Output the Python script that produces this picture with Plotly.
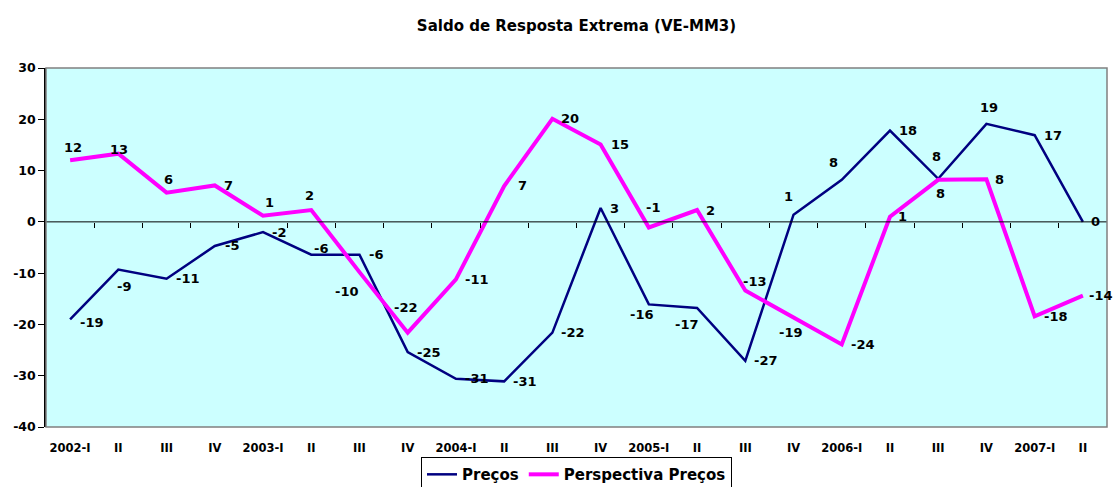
import plotly.graph_objects as go

categories = ["2002-I", "II", "III", "IV", "2003-I", "II", "III", "IV",
              "2004-I", "II", "III", "IV", "2005-I", "II", "III", "IV",
              "2006-I", "II", "III", "IV", "2007-I", "II"]

precos = [-19.0, -9.3, -11.1, -4.7, -2.0, -6.4, -6.4, -25.4, -30.6, -31.1, -21.6,
          2.7, -16.1, -16.8, -27.1, 1.4, 8.2, 17.8, 8.4, 19.1, 16.9, 0.0]

perspectiva = [12.0, 13.3, 5.7, 7.1, 1.2, 2.3, -9.8, -21.6, -11.2, 7.0, 20.1,
               15.1, -1.1, 2.3, -13.4, -18.7, -23.9, 1.0, 8.2, 8.3, -18.4, -14.4]

# label offsets in pixels (dx right, dy down)
precos_off = [(22, 3), (6, 17), (21, 0), (17, 0), (16, 0), (10, -6), (17, 0), (21, 0),
              (21, 0), (21, 0), (21, 0), (14, 0), (-7, 10), (-10, 16), (21, 0),
              (-5, -18), (-8, -17), (18, 0), (-2, -22), (3, -16), (18, 0), (13, 0)]
persp_off = [(3, -13), (1, -4), (2, -13), (14, 0), (6, -13), (-2, -15), (-12, 19),
             (-2, -25), (21, 0), (18, 0), (18, 0), (19, 0), (4, -20), (13, 0),
             (10, -9), (-3, 15), (21, 0), (13, 0), (2, 14), (13, 0), (21, 0), (18, 0)]

FONT = "DejaVu Sans, Verdana, sans-serif"
idx = list(range(len(categories)))

fig = go.Figure()
fig.add_trace(go.Scatter(x=idx, y=precos, mode="lines", name="<b>Preços</b>",
                         line=dict(color="#000080", width=2.5)))
fig.add_trace(go.Scatter(x=idx, y=perspectiva, mode="lines", name="<b>Perspectiva Preços</b>",
                         line=dict(color="#FF00FF", width=4)))

# zero line with tick marks at category boundaries (secondary x axis)
boundaries = [i + 0.5 for i in idx[:-1]]
fig.add_trace(go.Scatter(x=[-0.5, len(categories) - 0.5], y=[0, 0], xaxis="x2",
                         mode="lines", line=dict(color="black", width=1),
                         showlegend=False, hoverinfo="skip"))

annotations = []
for vals, offs in ((precos, precos_off), (perspectiva, persp_off)):
    for i, (v, (dx, dy)) in enumerate(zip(vals, offs)):
        annotations.append(dict(x=i, y=v, xref="x", yref="y", text="<b>%d</b>" % round(v),
                                showarrow=False, xshift=dx, yshift=-dy,
                                font=dict(family=FONT, size=13, color="black")))

fig.update_layout(
    width=1117, height=487,
    margin=dict(l=46, r=10, t=68, b=60, autoexpand=False),
    paper_bgcolor="white",
    plot_bgcolor="#CCFFFF",
    title=dict(text="<b>Saldo de Resposta Extrema (VE-MM3)</b>", x=0.5, xanchor="center",
               xref="paper", y=1 - 26 / 487, yref="container", yanchor="middle",
               font=dict(family=FONT, size=15, color="black")),
    font=dict(family=FONT, color="black"),
    xaxis=dict(range=[-0.5, len(categories) - 0.5], tickvals=idx,
               ticktext=["<b>%s</b>" % c for c in categories],
               showgrid=False, zeroline=False, showline=False, ticks="",
               tickfont=dict(family=FONT, size=11.5, color="black"), ticklabelstandoff=12),
    xaxis2=dict(range=[-0.5, len(categories) - 0.5], overlaying="x", anchor="free",
                position=40 / 70, side="bottom", showline=False, showgrid=False,
                zeroline=False, tickvals=boundaries, ticks="outside", ticklen=5,
                tickcolor="black", showticklabels=False),
    yaxis=dict(range=[-40, 30], showgrid=False, zeroline=False,
               showline=True, linecolor="black", linewidth=1.5, ticks="outside",
               ticklen=6, tickcolor="black",
               tickvals=[-40, -30, -20, -10, 0, 10, 20, 30],
               ticktext=["<b>%d</b>" % v for v in [-40, -30, -20, -10, 0, 10, 20, 30]],
               tickfont=dict(family=FONT, size=12.5, color="black")),
    legend=dict(orientation="h", x=0.5, xanchor="center", y=-30 / 358, yanchor="top",
                bordercolor="black", borderwidth=1, bgcolor="white",
                font=dict(family=FONT, size=15, color="black"),
                itemwidth=30, tracegroupgap=0),
    annotations=annotations,
    shapes=[dict(type="rect", xref="paper", yref="paper", x0=0, y0=0, x1=1, y1=1,
                 line=dict(color="#808080", width=1.5), layer="above")],
    showlegend=True,
)

fig.write_html("out.html", config={"displayModeBar": False},
               post_script="document.body.style.margin='0px';document.body.style.overflow='hidden';")
